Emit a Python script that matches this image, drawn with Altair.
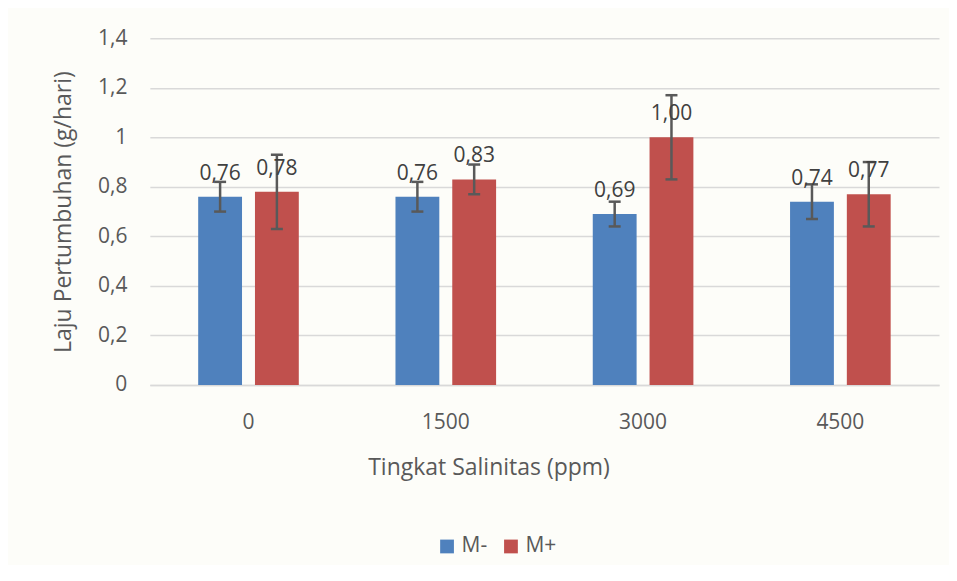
import altair as alt
import pandas as pd

salinitas = ["0", "1500", "3000", "4500"]
perlakuan = ["M-", "M+"]
m_minus = [0.76, 0.76, 0.69, 0.74]
m_plus = [0.78, 0.83, 1.00, 0.77]
err_minus = [0.06, 0.06, 0.05, 0.07]
err_plus = [0.15, 0.06, 0.17, 0.13]
colors = ["#4F81BD", "#C0504D"]

rows = []
for i, s in enumerate(salinitas):
    for p, vals, errs in (("M-", m_minus, err_minus), ("M+", m_plus, err_plus)):
        v = vals[i]
        e = errs[i]
        rows.append({
            "Salinitas": s,
            "Perlakuan": p,
            "Nilai": v,
            "Low": round(v - e, 3),
            "High": round(v + e, 3),
            "Label": f"{v:.2f}".replace(".", ","),
        })
df = pd.DataFrame(rows)

FONT = "Open Sans"
FS = 21

x_enc = alt.X("Salinitas:N", sort=salinitas,
              scale=alt.Scale(paddingInner=0.49, paddingOuter=0.245),
              axis=alt.Axis(title="Tingkat Salinitas (ppm)", labelAngle=0,
                            labelPadding=27, titlePadding=24, ticks=False,
                            titleX=339, titleAlign="center",
                            domainColor="#d9d9d9", domainWidth=1.5,
                            labelFontSize=FS, titleFontSize=FS + 2,
                            labelColor="#595959", titleColor="#595959",
                            labelFont=FONT, titleFont=FONT, titleFontWeight="normal"))
xo_enc = alt.XOffset("Perlakuan:N", sort=perlakuan,
                     scale=alt.Scale(paddingInner=0.228, paddingOuter=0))

y_scale = alt.Scale(domain=[0, 1.4], nice=False)

base = alt.Chart(df).encode(x=x_enc, xOffset=xo_enc)

bars = base.mark_bar().encode(
    y=alt.Y("Nilai:Q", scale=y_scale,
            axis=alt.Axis(title="Laju Pertumbuhan (g/hari)",
                          values=[0, 0.2, 0.4, 0.6, 0.8, 1.0, 1.2, 1.4],
                          labelExpr="replace(format(datum.value, ''), '.', ',')",
                          grid=True, gridColor="#d9d9d9", gridWidth=1.5,
                          domain=False, ticks=False, labelPadding=23,
                          titlePadding=22,
                          labelFontSize=FS, titleFontSize=FS + 2,
                          labelColor="#595959", titleColor="#595959",
                          labelFont=FONT, titleFont=FONT, titleFontWeight="normal")),
    color=alt.Color("Perlakuan:N", sort=perlakuan,
                    scale=alt.Scale(domain=perlakuan, range=colors),
                    legend=alt.Legend(title=None, orient="none", direction="horizontal",
                                      legendX=287, legendY=498,
                                      symbolType="square", symbolSize=190,
                                      symbolStrokeWidth=0, symbolOpacity=1,
                                      labelFontSize=FS, labelColor="#595959",
                                      labelFont=FONT, columnPadding=13,
                                      labelOffset=4)),
)

rules = base.mark_rule(color="#595959", strokeWidth=2.5).encode(
    y=alt.Y("Low:Q", scale=y_scale), y2="High:Q"
)
caps_low = base.mark_tick(color="#595959", thickness=2.5, size=12, opacity=1).encode(
    y=alt.Y("Low:Q", scale=y_scale)
)
caps_high = base.mark_tick(color="#595959", thickness=2.5, size=12, opacity=1).encode(
    y=alt.Y("High:Q", scale=y_scale)
)
labels = base.mark_text(baseline="alphabetic", dy=-17, fontSize=FS, color="#404040",
                        font=FONT).encode(
    y=alt.Y("Nilai:Q", scale=y_scale), text="Label:N"
)

chart = alt.layer(bars, rules, caps_low, caps_high, labels).properties(
    width=790, height=347,
    autosize=alt.AutoSizeParams(type="none"),
    padding={"left": 142, "top": 30, "right": 10, "bottom": 180},
    background="#fdfdf9",
).configure_view(stroke=None)

chart.save("out.html", embed_options={"renderer": "svg", "actions": False})
